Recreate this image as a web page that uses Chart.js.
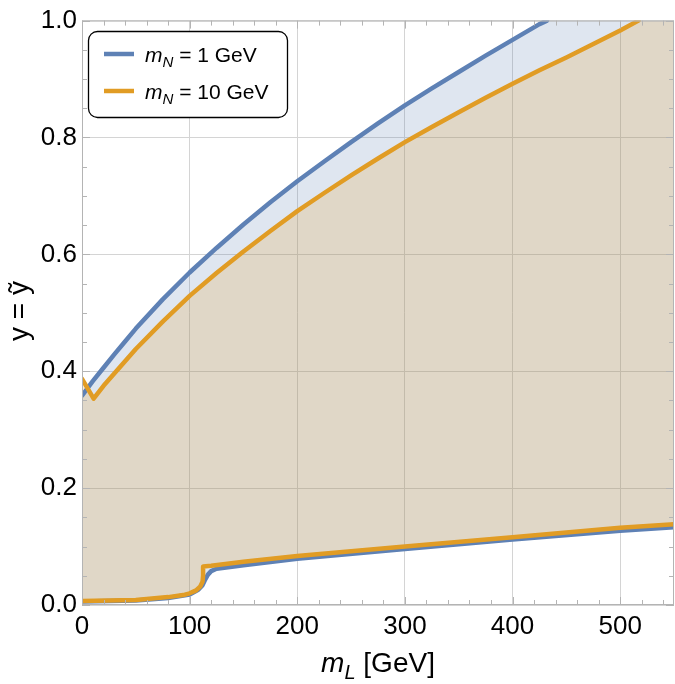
<!DOCTYPE html>
<html lang="en">
<head>
  <meta charset="UTF-8">
  <title>y vs m_L</title>
  <script src="https://cdn.jsdelivr.net/npm/chart.js"></script>
  <style>
    body { margin: 0; background: #fff; }
  </style>
</head>
<body>
  <div style="width: 675px; height: 684px;">
    <canvas id="chart"></canvas>
  </div>

  <script>
    // upper curves (y = ytilde)
    const blueUpperX   = [0, 10, 20, 30, 40, 50, 75, 100, 125, 150, 175, 200, 225, 250, 275, 300, 325, 350, 375, 400, 425, 432];
    const blueUpperY   = [0.358, 0.383, 0.406, 0.429, 0.451, 0.473, 0.523, 0.569, 0.611, 0.651, 0.689, 0.725, 0.759, 0.792, 0.824, 0.855, 0.884, 0.912, 0.940, 0.967, 0.994, 1.000];
    const orangeUpperX = [0, 10.8, 20, 30, 40, 50, 75, 100, 125, 150, 175, 200, 225, 250, 275, 300, 325, 350, 375, 400, 425, 450, 475, 500, 517];
    const orangeUpperY = [0.387, 0.353, 0.375, 0.396, 0.417, 0.438, 0.485, 0.529, 0.568, 0.605, 0.640, 0.674, 0.705, 0.735, 0.764, 0.792, 0.818, 0.843, 0.868, 0.892, 0.915, 0.937, 0.960, 0.983, 1.000];

    // lower curves
    const blueLowerX   = [0, 50, 80, 100, 108, 112, 114, 117, 120, 125, 150, 200, 300, 400, 500, 550];
    const blueLowerY   = [0.006, 0.0075, 0.012, 0.018, 0.026, 0.034, 0.042, 0.052, 0.058, 0.062, 0.068, 0.079, 0.096, 0.112, 0.127, 0.133];
    const orangeLowerX = [0, 50, 80, 94, 100, 106, 110, 112, 112.5, 112.5, 120, 150, 200, 300, 400, 500, 550];
    const orangeLowerY = [0.007, 0.0085, 0.0135, 0.017, 0.020, 0.025, 0.032, 0.040, 0.050, 0.066, 0.067, 0.074, 0.084, 0.100, 0.116, 0.132, 0.138];

    const xTicks = [0, 100, 200, 300, 400, 500];
    const yTicks = [0.0, 0.2, 0.4, 0.6, 0.8, 1.0];
    const X_MAX = 550, Y_MAX = 1.0;

    const BLUE = '#5e81b5';
    const ORANGE = '#e19c24';
    const FONT = '"Liberation Sans", Arial, sans-serif';

    const pts = (xs, ys) => xs.map((x, i) => ({ x: x, y: ys[i] }));
    // region edge: curve, then along the top of the frame (clipped at y = 1)
    const edge = (xs, ys) => pts(xs, ys).concat([{ x: X_MAX, y: Y_MAX }]);

    const lineDs = (data, color, order) => ({
      data: data,
      borderColor: color,
      borderWidth: 4.5,
      pointRadius: 0,
      fill: false,
      order: order,
      tension: 0,
      borderCapStyle: 'round',
      borderJoinStyle: 'round'
    });

    const datasets = [
      lineDs(pts(orangeUpperX, orangeUpperY), ORANGE, 0),   // 0
      lineDs(pts(orangeLowerX, orangeLowerY), ORANGE, 0),   // 1
      lineDs(pts(blueUpperX, blueUpperY), BLUE, 1),         // 2
      lineDs(pts(blueLowerX, blueLowerY), BLUE, 1),         // 3
      { // 4: orange region
        data: edge(orangeUpperX, orangeUpperY),
        borderWidth: 0, pointRadius: 0, order: 2, tension: 0,
        fill: 1, backgroundColor: 'rgba(225,156,36,0.2)'
      },
      { // 5: blue region
        data: edge(blueUpperX, blueUpperY),
        borderWidth: 0, pointRadius: 0, order: 3, tension: 0,
        fill: 3, backgroundColor: 'rgba(94,129,181,0.2)'
      }
    ];

    const FRAME = '#b4b4b4';

    // frame, inward minor/major ticks on all four sides
    const frameTicks = {
      id: 'frameTicks',
      afterDatasetsDraw(chart) {
        const { ctx, chartArea: a, scales: { x, y } } = chart;
        ctx.save();
        ctx.strokeStyle = FRAME;
        ctx.lineWidth = 1;
        ctx.strokeRect(a.left + 0.5, a.top + 0.5, a.right - a.left - 1, a.bottom - a.top - 1);
        ctx.beginPath();
        for (let v = 0; v <= X_MAX; v += 20) {
          const len = v % 100 === 0 ? 8 : 5;
          const px = Math.round(x.getPixelForValue(v)) + 0.5;
          ctx.moveTo(px, a.bottom); ctx.lineTo(px, a.bottom - len);
          ctx.moveTo(px, a.top); ctx.lineTo(px, a.top + len);
        }
        for (let k = 0; k <= 20; k++) {
          const v = k * 0.05;
          const len = k % 4 === 0 ? 8 : 5;
          const py = Math.round(y.getPixelForValue(v)) + 0.5;
          ctx.moveTo(a.left, py); ctx.lineTo(a.left + len, py);
          ctx.moveTo(a.right, py); ctx.lineTo(a.right - len, py);
        }
        ctx.stroke();
        ctx.restore();
      }
    };

    // m with italic subscript, then the rest in roman
    function drawSubLabel(ctx, x, y, sub, rest, size, subSize) {
      ctx.font = 'italic ' + size + 'px ' + FONT;
      ctx.fillText('m', x, y);
      x += ctx.measureText('m').width;
      ctx.font = 'italic ' + subSize + 'px ' + FONT;
      ctx.fillText(sub, x, y + size * 0.25);
      x += ctx.measureText(sub).width;
      ctx.font = size + 'px ' + FONT;
      ctx.fillText(rest, x, y);
      return x + ctx.measureText(rest).width;
    }

    const labels = {
      id: 'labels',
      afterDraw(chart) {
        const { ctx, chartArea: a } = chart;
        ctx.save();
        ctx.fillStyle = '#000';
        ctx.textBaseline = 'alphabetic';
        ctx.textAlign = 'left';

        // x title, centred under the plot
        ctx.font = 'italic 28px ' + FONT;
        let w = ctx.measureText('m').width;
        ctx.font = 'italic 20px ' + FONT;
        w += ctx.measureText('L').width;
        ctx.font = '28px ' + FONT;
        w += ctx.measureText(' [GeV]').width;
        drawSubLabel(ctx, (a.left + a.right) / 2 - w / 2, 672, 'L', ' [GeV]', 28, 20);

        // y title
        ctx.save();
        ctx.translate(20, 311);
        ctx.rotate(-Math.PI / 2);
        ctx.font = '28px ' + FONT;
        ctx.textAlign = 'center';
        ctx.textBaseline = 'middle';
        ctx.fillText('y = ỹ', 0, 0);
        ctx.restore();

        // legend box
        const bx = 88.5, by = 31.5, bw = 199, bh = 86;
        ctx.beginPath();
        ctx.roundRect(bx, by, bw, bh, 9);
        ctx.fillStyle = '#fff';
        ctx.fill();
        ctx.strokeStyle = '#000';
        ctx.lineWidth = 1.3;
        ctx.stroke();

        const rows = [[BLUE, ' = 1 GeV', 54], [ORANGE, ' = 10 GeV', 91]];
        rows.forEach(([c, t, ly]) => {
          ctx.beginPath();
          ctx.strokeStyle = c;
          ctx.lineWidth = 4.5;
          ctx.moveTo(104, ly); ctx.lineTo(134, ly);
          ctx.stroke();
          ctx.fillStyle = '#000';
          drawSubLabel(ctx, 145, ly + 7.5, 'N', t, 21, 15);
        });
        ctx.restore();
      }
    };

    new Chart(document.getElementById('chart'), {
      type: 'line',
      data: { datasets: datasets },
      options: {
        responsive: true,
        maintainAspectRatio: false,
        animation: false,
        layout: { padding: { top: 15, right: 1, left: 0, bottom: 0 } },
        plugins: { legend: { display: false }, tooltip: { enabled: false } },
        scales: {
          x: {
            type: 'linear',
            min: 0, max: X_MAX,
            afterBuildTicks: s => { s.ticks = xTicks.map(v => ({ value: v })); },
            afterFit: s => { s.height = 79; },
            grid: { color: '#d4d4d4', drawTicks: false },
            border: { display: false },
            ticks: {
              padding: 6,
              color: '#000',
              font: { family: FONT, size: 26 },
              maxRotation: 0
            }
          },
          y: {
            type: 'linear',
            min: 0, max: Y_MAX,
            afterBuildTicks: s => { s.ticks = yTicks.map(v => ({ value: v })); },
            afterFit: s => { s.width = 82; },
            grid: { color: '#d4d4d4', drawTicks: false },
            border: { display: false },
            ticks: {
              padding: 5,
              color: '#000',
              font: { family: FONT, size: 26 },
              callback: v => v.toFixed(1)
            }
          }
        }
      },
      plugins: [frameTicks, labels]
    });
  </script>
</body>
</html>
